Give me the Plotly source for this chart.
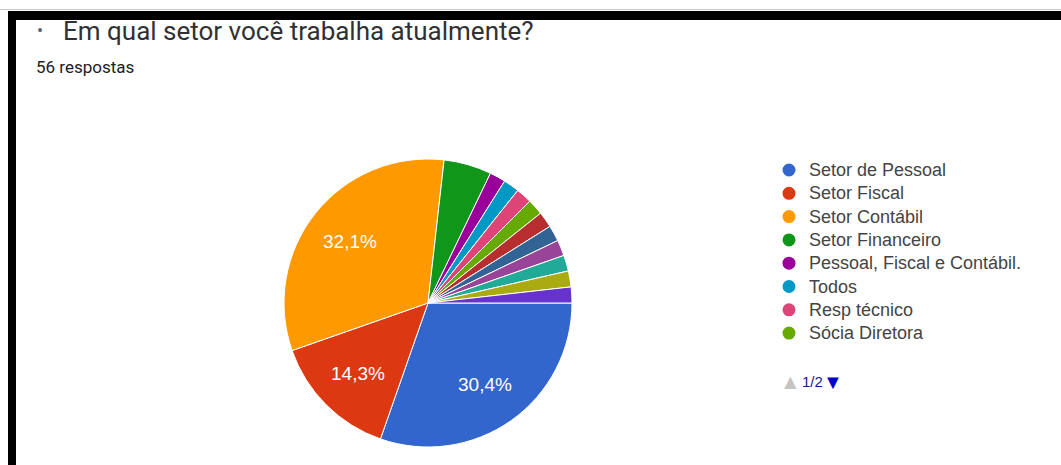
import math
import plotly.graph_objects as go

# Survey answers: "Em qual setor você trabalha atualmente?" (56 respostas)
labels = [
    "Setor de Pessoal", "Setor Fiscal", "Setor Contábil", "Setor Financeiro",
    "Pessoal, Fiscal e Contábil.", "Todos", "Resp técnico", "Sócia Diretora",
    "Outro 1", "Outro 2", "Outro 3", "Outro 4", "Outro 5", "Outro 6",
]
counts = [17, 8, 18, 3, 1, 1, 1, 1, 1, 1, 1, 1, 1, 1]
colors = [
    "#3366cc", "#dc3912", "#ff9900", "#109618", "#990099", "#0099c6",
    "#dd4477", "#66aa00", "#b82e2e", "#316395", "#994499", "#22aa99",
    "#aaaa11", "#6633cc",
]
title_text = "Em qual setor você trabalha atualmente?"
subtitle_text = "56 respostas"
legend_page = "1/2"
legend_per_page = 8

W, H = 1061, 465


def fx(px):
    return px / W


def fy(py):
    return 1 - py / H


total = sum(counts)
cx, cy, r = 428, 303, 144
start_angle = 90  # first slice starts at 3 o'clock, going clockwise

fig = go.Figure()
fig.add_trace(go.Pie(
    labels=labels,
    values=counts,
    sort=False,
    direction="clockwise",
    rotation=start_angle,
    marker=dict(colors=colors, line=dict(color="white", width=1)),
    textinfo="none",
    showlegend=False,
    hoverinfo="label+value+percent",
    domain=dict(x=[fx(cx - r), fx(cx + r)], y=[fy(cy + r), fy(cy - r)]),
))

shapes = [
    # frame: thin grey line, thick black top and left bars
    dict(type="rect", xref="paper", yref="paper", x0=0, x1=1, y0=fy(10), y1=fy(9),
         line=dict(width=0), fillcolor="#c8c8c8"),
    dict(type="rect", xref="paper", yref="paper", x0=fx(8), x1=1, y0=fy(20), y1=fy(11),
         line=dict(width=0), fillcolor="black"),
    dict(type="rect", xref="paper", yref="paper", x0=fx(8), x1=fx(16), y0=0, y1=fy(11),
         line=dict(width=0), fillcolor="black"),
]

annotations = [
    dict(text="•", x=fx(35), y=fy(31), xref="paper", yref="paper", showarrow=False,
         xanchor="left", yanchor="middle",
         font=dict(family="Roboto", size=18, color="#5f6368")),
    dict(text=title_text, x=fx(61), y=fy(31), xref="paper", yref="paper", showarrow=False,
         xanchor="left", yanchor="middle",
         font=dict(family="Roboto", size=26, color="#303134")),
    dict(text=subtitle_text, x=fx(34), y=fy(67), xref="paper", yref="paper", showarrow=False,
         xanchor="left", yanchor="middle",
         font=dict(family="Roboto", size=17, color="#202124")),
]

# percentage labels on the large slices, placed along each slice's middle angle
acc = 0
for c in counts:
    share = c / total
    mid = math.radians(start_angle + 360 * (acc + share / 2))
    acc += share
    if share < 0.1:
        continue
    rho = 0.69 * r
    annotations.append(dict(
        text=f"{share * 100:.1f}%".replace(".", ","),
        x=fx(cx + rho * math.sin(mid)), y=fy(cy - rho * math.cos(mid)),
        xref="paper", yref="paper", showarrow=False,
        xanchor="center", yanchor="middle",
        font=dict(family="Liberation Sans, Arial", size=19, color="white")))

# legend (first page)
leg_x, leg_y0, leg_step, dot_r = 789, 170, 23.3, 6.5
for i in range(legend_per_page):
    yy = leg_y0 + i * leg_step
    shapes.append(dict(type="circle", xref="paper", yref="paper",
                       x0=fx(leg_x - dot_r), x1=fx(leg_x + dot_r),
                       y0=fy(yy + dot_r), y1=fy(yy - dot_r),
                       fillcolor=colors[i], line=dict(width=0)))
    annotations.append(dict(text=labels[i], x=fx(leg_x + 18), y=fy(yy), xref="paper",
                            yref="paper", showarrow=False, xanchor="left",
                            yanchor="middle",
                            font=dict(family="Liberation Sans, Arial", size=18,
                                      color="#444444")))

# pager
pager_y = 381
annotations += [
    dict(text="▲", x=fx(778), y=fy(pager_y), xref="paper", yref="paper", showarrow=False,
         xanchor="left", yanchor="middle", font=dict(size=21, color="#c4c4c4")),
    dict(text=legend_page, x=fx(800), y=fy(pager_y), xref="paper", yref="paper",
         showarrow=False, xanchor="left", yanchor="middle",
         font=dict(family="Liberation Sans, Arial", size=15, color="#1a1a8c")),
    dict(text="▼", x=fx(821), y=fy(pager_y), xref="paper", yref="paper", showarrow=False,
         xanchor="left", yanchor="middle", font=dict(size=20, color="#0000cc")),
]

fig.update_layout(
    width=W, height=H,
    margin=dict(l=0, r=0, t=0, b=0),
    paper_bgcolor="white", plot_bgcolor="white",
    shapes=shapes,
    annotations=annotations,
)

fig.write_html("out.html")
